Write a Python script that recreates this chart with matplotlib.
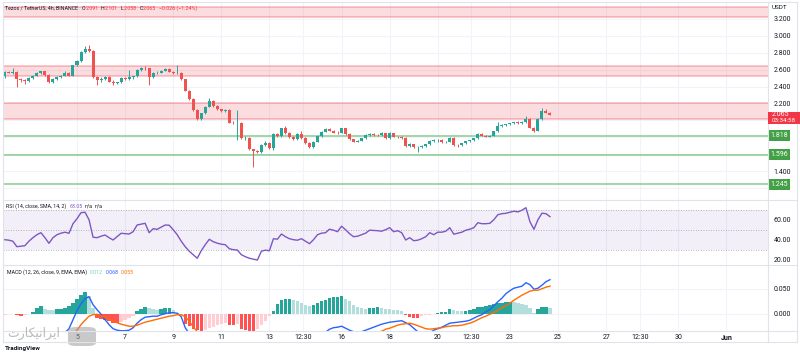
import matplotlib
matplotlib.use("Agg")
import matplotlib.pyplot as plt
import matplotlib.transforms as mtrans
from matplotlib.patches import Rectangle, FancyBboxPatch
from matplotlib.lines import Line2D
import numpy as np

# ---------------- data (XTZ/USDT 4h, May) ----------------
opens = [2.520, 2.570, 2.560, 2.570, 2.490, 2.480, 2.470, 2.500, 2.530, 2.560,
         2.580, 2.540, 2.450, 2.490, 2.510, 2.530, 2.560, 2.530, 2.650, 2.700,
         2.810, 2.840, 2.820, 2.515, 2.480, 2.490, 2.510, 2.460, 2.440, 2.450,
         2.500, 2.490, 2.510, 2.520, 2.600, 2.620, 2.615, 2.514, 2.560, 2.565,
         2.590, 2.605, 2.577, 2.557, 2.565, 2.487, 2.352, 2.250, 2.123, 2.013,
         2.084, 2.162, 2.233, 2.170, 2.131, 2.111, 2.123, 1.973, 1.970, 1.975,
         1.788, 1.795, 1.658, 1.641, 1.630, 1.709, 1.729, 1.670, 1.839, 1.815,
         1.906, 1.847, 1.800, 1.776, 1.839, 1.788, 1.729, 1.682, 1.748, 1.815,
         1.866, 1.895, 1.878, 1.855, 1.850, 1.906, 1.839, 1.776, 1.748, 1.760,
         1.788, 1.827, 1.839, 1.831, 1.824, 1.847, 1.788, 1.847, 1.807, 1.800,
         1.792, 1.697, 1.721, 1.682, 1.685, 1.700, 1.717, 1.760, 1.768, 1.770,
         1.741, 1.745, 1.796, 1.709, 1.705, 1.729, 1.756, 1.764, 1.788, 1.839,
         1.819, 1.807, 1.819, 1.875, 1.937, 1.946, 1.954, 1.966, 1.978, 1.966,
         1.985, 2.017, 1.914, 1.875, 2.017, 2.111, 2.091]
highs = [2.580, 2.590, 2.620, 2.580, 2.505, 2.495, 2.510, 2.540, 2.570, 2.590,
         2.590, 2.550, 2.500, 2.520, 2.540, 2.585, 2.570, 2.660, 2.710, 2.820,
         2.880, 2.895, 2.830, 2.530, 2.510, 2.520, 2.520, 2.480, 2.460, 2.510,
         2.510, 2.600, 2.530, 2.610, 2.630, 2.640, 2.625, 2.570, 2.580, 2.600,
         2.615, 2.615, 2.590, 2.656, 2.575, 2.495, 2.360, 2.260, 2.130, 2.090,
         2.170, 2.260, 2.245, 2.180, 2.140, 2.135, 2.130, 1.990, 2.120, 1.985,
         1.810, 1.800, 1.665, 1.650, 1.715, 1.760, 1.740, 1.845, 1.850, 1.915,
         1.930, 1.860, 1.810, 1.850, 1.870, 1.800, 1.740, 1.755, 1.825, 1.875,
         1.910, 1.905, 1.890, 1.870, 1.915, 1.915, 1.845, 1.785, 1.770, 1.795,
         1.835, 1.850, 1.845, 1.840, 1.860, 1.855, 1.860, 1.855, 1.820, 1.815,
         1.800, 1.730, 1.725, 1.695, 1.710, 1.725, 1.765, 1.775, 1.780, 1.785,
         1.755, 1.800, 1.805, 1.720, 1.735, 1.760, 1.770, 1.795, 1.845, 1.850,
         1.830, 1.825, 1.880, 1.980, 1.955, 1.960, 1.975, 1.985, 1.990, 1.995,
         2.056, 2.025, 1.925, 2.025, 2.150, 2.140, 2.101]
lows = [2.505, 2.555, 2.550, 2.400, 2.460, 2.430, 2.455, 2.490, 2.520, 2.550,
        2.530, 2.440, 2.440, 2.480, 2.500, 2.520, 2.520, 2.520, 2.640, 2.690,
        2.800, 2.810, 2.505, 2.420, 2.460, 2.480, 2.450, 2.420, 2.425, 2.440,
        2.480, 2.480, 2.490, 2.510, 2.590, 2.600, 2.420, 2.505, 2.550, 2.555,
        2.580, 2.570, 2.545, 2.550, 2.480, 2.345, 2.240, 2.115, 2.000, 2.005,
        2.075, 2.155, 2.160, 2.120, 2.100, 2.100, 1.965, 1.955, 1.770, 1.780,
        1.770, 1.650, 1.452, 1.620, 1.620, 1.700, 1.660, 1.650, 1.800, 1.805,
        1.840, 1.790, 1.765, 1.770, 1.780, 1.720, 1.675, 1.675, 1.740, 1.805,
        1.860, 1.870, 1.845, 1.840, 1.845, 1.830, 1.765, 1.740, 1.740, 1.755,
        1.780, 1.820, 1.820, 1.815, 1.815, 1.780, 1.780, 1.800, 1.795, 1.785,
        1.690, 1.690, 1.675, 1.630, 1.670, 1.690, 1.710, 1.750, 1.745, 1.735,
        1.730, 1.740, 1.700, 1.690, 1.700, 1.720, 1.745, 1.755, 1.780, 1.810,
        1.800, 1.800, 1.810, 1.865, 1.925, 1.930, 1.945, 1.955, 1.960, 1.960,
        1.975, 1.905, 1.865, 1.870, 2.010, 2.085, 2.058]
closes = [2.570, 2.560, 2.570, 2.490, 2.480, 2.470, 2.500, 2.530, 2.560, 2.580,
          2.540, 2.450, 2.490, 2.510, 2.530, 2.560, 2.530, 2.650, 2.700, 2.810,
          2.840, 2.820, 2.515, 2.480, 2.490, 2.510, 2.460, 2.440, 2.450, 2.500,
          2.490, 2.510, 2.520, 2.600, 2.620, 2.615, 2.514, 2.560, 2.565, 2.590,
          2.605, 2.577, 2.557, 2.565, 2.487, 2.352, 2.250, 2.123, 2.013, 2.084,
          2.162, 2.233, 2.170, 2.131, 2.111, 2.123, 1.973, 1.970, 1.975, 1.788,
          1.795, 1.658, 1.641, 1.630, 1.709, 1.729, 1.670, 1.839, 1.815, 1.906,
          1.847, 1.800, 1.776, 1.839, 1.788, 1.729, 1.682, 1.748, 1.815, 1.866,
          1.895, 1.878, 1.855, 1.850, 1.906, 1.839, 1.776, 1.748, 1.760, 1.788,
          1.827, 1.839, 1.831, 1.824, 1.847, 1.788, 1.847, 1.807, 1.800, 1.792,
          1.697, 1.721, 1.682, 1.685, 1.700, 1.717, 1.760, 1.768, 1.770, 1.741,
          1.745, 1.796, 1.709, 1.705, 1.729, 1.756, 1.764, 1.788, 1.839, 1.819,
          1.807, 1.819, 1.875, 1.937, 1.946, 1.954, 1.966, 1.978, 1.966, 1.985,
          2.017, 1.914, 1.875, 2.017, 2.111, 2.091, 2.065]

rsi = [40, 39.5, 38.5, 33, 33.5, 34, 38.5, 42, 45, 47,
       42, 36.4, 42, 45, 46.5, 47.5, 46.4, 56, 61, 67,
       67.5, 60, 42.5, 42, 43.5, 44.7, 42, 39.7, 43, 46.4,
       46, 45.7, 48, 54.7, 55.5, 56.4, 47, 51, 50.4, 52.5,
       54.7, 54.5, 50, 45, 38.5, 33, 28.5, 25, 21.4, 29,
       35, 40.4, 38, 36.5, 35.5, 35, 31, 30, 29.7, 25,
       23, 21.4, 20.5, 19.7, 28.5, 29.5, 29, 41, 40.5, 45.7,
       43, 41, 40, 39.5, 41, 38.5, 36, 40, 45, 46.5,
       47, 50.5, 49.5, 48, 53.5, 50, 46, 43, 43.5, 45,
       46.5, 49.5, 49.3, 49, 48.5, 50, 52, 48, 49, 47,
       39.7, 42, 39, 39.5, 41, 43, 47, 45, 47.5, 47.5,
       48.5, 52, 45.5, 46.5, 47.5, 49.5, 50.5, 52, 57, 56,
       56, 56.4, 60, 65, 66, 66.4, 67.5, 68.5, 67.8, 69.5,
       72, 58, 50.4, 60, 66.5, 66, 63.05]

macd_hist = [-0.002, -0.001, -0.001, -0.003, -0.004, -0.002, -0.001, 0.004, 0.011, 0.015,
             0.010, 0.008, 0.007, 0.009, 0.010, 0.011, 0.016, 0.022, 0.030, 0.037,
             0.044, 0.036, 0.011, -0.009, -0.011, -0.013, -0.015, -0.018, -0.019, -0.016,
             -0.012, -0.009, -0.005, 0.006, 0.010, 0.014, 0.011, 0.009, 0.007, 0.010,
             0.011, 0.012, 0.007, 0.002, -0.001, -0.020, -0.025, -0.030, -0.032, -0.034,
             -0.032, -0.029, -0.026, -0.023, -0.020, -0.018, -0.022, -0.023, -0.021, -0.030,
             -0.033, -0.035, -0.036, -0.030, -0.022, -0.015, -0.005, 0.006, 0.020, 0.027,
             0.029, 0.030, 0.027, 0.025, 0.021, 0.017, 0.016, 0.018, 0.021, 0.025,
             0.027, 0.031, 0.033, 0.034, 0.035, 0.030, 0.025, 0.018, 0.013, 0.011,
             0.010, 0.011, 0.012, 0.013, 0.011, 0.010, 0.009, 0.008, 0.007, 0.006,
             -0.003, -0.006, -0.008, -0.009, -0.004, -0.003, -0.002, -0.001, 0.002, 0.003,
             0.004, 0.009, 0.008, 0.006, 0.005, 0.006, 0.007, 0.009, 0.013, 0.014,
             0.015, 0.017, 0.019, 0.021, 0.022, 0.023, 0.024, 0.023, 0.022, 0.020,
             0.018, 0.011, 0.002, 0.009, 0.013, 0.014, 0.012]

macd_line = [-0.052, -0.053, -0.054, -0.057, -0.058, -0.058, -0.057, -0.054, -0.050, -0.046,
             -0.046, -0.048, -0.047, -0.045, -0.042, -0.038, -0.030, -0.012, 0.006, 0.020,
             0.030, 0.034, 0.018, 0.008, -0.001, -0.012, -0.022, -0.030, -0.033, -0.034,
             -0.034, -0.033, -0.028, -0.019, -0.012, -0.007, -0.006, -0.005, -0.005, -0.002,
             0.000, 0.002, 0.002, 0.001, -0.006, -0.028, -0.040, -0.055, -0.068, -0.075,
             -0.078, -0.079, -0.080, -0.081, -0.082, -0.083, -0.090, -0.094, -0.096, -0.105,
             -0.115, -0.125, -0.132, -0.133, -0.128, -0.122, -0.118, -0.105, -0.095, -0.082,
             -0.073, -0.068, -0.064, -0.058, -0.056, -0.056, -0.058, -0.054, -0.048, -0.042,
             -0.037, -0.031, -0.028, -0.027, -0.025, -0.029, -0.033, -0.036, -0.037, -0.036,
             -0.033, -0.030, -0.027, -0.024, -0.021, -0.019, -0.017, -0.016, -0.015, -0.014,
             -0.018, -0.022, -0.029, -0.036, -0.039, -0.040, -0.038, -0.033, -0.030, -0.027,
             -0.023, -0.019, -0.018, -0.017, -0.016, -0.015, -0.013, -0.009, -0.005, -0.002,
             0.004, 0.008, 0.016, 0.024, 0.031, 0.040, 0.046, 0.051, 0.053, 0.055,
             0.062, 0.058, 0.049, 0.051, 0.057, 0.064, 0.068]

signal_line = [-0.050, -0.052, -0.053, -0.054, -0.054, -0.056, -0.056, -0.058, -0.061, -0.061,
               -0.056, -0.056, -0.054, -0.054, -0.052, -0.049, -0.046, -0.040, -0.033, -0.022,
               -0.013, -0.005, -0.002, -0.001, -0.004, -0.007, -0.011, -0.015, -0.018, -0.021,
               -0.023, -0.025, -0.025, -0.023, -0.020, -0.017, -0.015, -0.013, -0.011, -0.009,
               -0.007, -0.005, -0.004, -0.002, -0.002, -0.006, -0.015, -0.026, -0.036, -0.043,
               -0.048, -0.052, -0.056, -0.059, -0.062, -0.065, -0.068, -0.071, -0.075, -0.077,
               -0.082, -0.090, -0.096, -0.103, -0.106, -0.107, -0.110, -0.111, -0.112, -0.111,
               -0.103, -0.096, -0.091, -0.083, -0.077, -0.073, -0.074, -0.072, -0.069, -0.067,
               -0.064, -0.064, -0.062, -0.061, -0.060, -0.056, -0.057, -0.054, -0.051, -0.048,
               -0.045, -0.042, -0.040, -0.038, -0.035, -0.031, -0.029, -0.026, -0.023, -0.021,
               -0.020, -0.019, -0.021, -0.024, -0.027, -0.030, -0.031, -0.030, -0.029, -0.028,
               -0.026, -0.025, -0.024, -0.024, -0.023, -0.021, -0.019, -0.016, -0.012, -0.008,
               -0.005, -0.001, 0.002, 0.007, 0.012, 0.016, 0.021, 0.027, 0.032, 0.037,
               0.041, 0.045, 0.047, 0.047, 0.050, 0.053, 0.055]

resistance_zones = [(3.220, 3.340), (2.525, 2.644), (2.013, 2.202)]
support_levels = [1.818, 1.596, 1.245]
support_labels = ["1.818", "1.596", "1.245"]

price_ticks = [1.4, 2.2, 2.4, 2.6, 2.8, 3.0, 3.2]
rsi_ticks = [20, 40, 60]
macd_ticks = [0.0, 0.05]
time_ticks = [5, 7, 9, 11, 13, 14.4, 16, 18, 20, 21.4, 23, 25, 27, 28.4, 30, 32]
time_labels = ["5", "7", "9", "11", "13", "12:30", "16", "18", "20", "12:30",
               "23", "25", "27", "12:30", "30", "Jun"]

last_price_label = "2.065"
countdown_label = "03:34:58"

# ---------------- figure ----------------
W, H = 800, 355
plt.rcParams['font.family'] = ['Roboto', 'DejaVu Sans']
fig = plt.figure(figsize=(8, 3.55), dpi=100)
fig.patch.set_facecolor("white")

UP, DOWN = "#26a69a", "#ef5350"
TXT = "#131722"
GRID = "#f0f3fa"
SEP = "#e0e3eb"

def ax_px(x0, y0, x1, y1):
    return fig.add_axes([x0 / W, 1 - y1 / H, (x1 - x0) / W, (y1 - y0) / H])

X0, X1 = 3, 768
ax_p = ax_px(X0, 3, X1, 200)
ax_r = ax_px(X0, 200, X1, 265)
ax_m = ax_px(X0, 265, X1, 331)

xlim = (5 + (X0 - 77) / 24.05, 5 + (X1 - 77) / 24.05)
n = len(closes)
xs = 2.0 + np.arange(n) / 6.0
bw = 0.125

for ax in (ax_p, ax_r, ax_m):
    ax.set_xlim(*xlim)
    for s in ax.spines.values():
        s.set_visible(False)
    ax.set_facecolor("none")
    for t in time_ticks:
        ax.axvline(t, color=GRID, lw=0.8, zorder=0)
    ax.yaxis.tick_right()
    ax.tick_params(axis="y", length=0, pad=4, labelsize=5, labelcolor=TXT)
    ax.tick_params(axis="x", length=0)

# ---- price pane ----
ax_p.set_ylim(1.058, 3.389)
for g in np.arange(1.2, 3.3, 0.2):
    ax_p.axhline(g, color=GRID, lw=0.8, zorder=0)
for lo, hi in resistance_zones:
    ax_p.axhspan(lo, hi, facecolor="#f23645", alpha=0.17, lw=0, zorder=1)
    ax_p.axhline(lo, color="#f23645", alpha=0.35, lw=1.1, zorder=1)
    ax_p.axhline(hi, color="#f23645", alpha=0.35, lw=1.1, zorder=1)
for lv in support_levels:
    ax_p.axhline(lv, color="#4caf50", alpha=0.55, lw=1.3, zorder=1)

for i in range(n):
    o, h, l, c = opens[i], highs[i], lows[i], closes[i]
    col = UP if c >= o else DOWN
    ax_p.vlines(xs[i], l, h, color=col, lw=0.7, zorder=3)
    body = max(abs(c - o), 0.004)
    ax_p.bar(xs[i], body, bottom=min(o, c), width=bw, color=col, lw=0, zorder=4)

ax_p.set_yticks(price_ticks)
ax_p.set_yticklabels(["%.3f" % v for v in price_ticks])
ax_p.set_xticks([])

ytr = mtrans.blended_transform_factory(ax_p.transAxes, ax_p.transData)
for lv, lab in zip(support_levels, support_labels):
    ax_p.text(1.0 + 2.5 / 765, lv, lab, transform=ytr, ha="left", va="center",
              fontsize=5, color="white", clip_on=False, zorder=10,
              bbox=dict(boxstyle="square,pad=0.3", fc="#43a047", ec="none"))

# last price box
fig.patches.append(Rectangle((768 / W, 1 - 123.5 / H), 32 / W, 12 / H,
                             transform=fig.transFigure, fc="#f23645", ec="none", zorder=5))
fig.text(772 / W, 1 - 115 / H, last_price_label, fontsize=5, color="white", va="center", zorder=6)
fig.text(772 / W, 1 - 120.6 / H, countdown_label, fontsize=4.5, color="white", va="center", zorder=6)
fig.text(772 / W, 1 - 7.5 / H, "USDT", fontsize=4.6, color=TXT, va="center")

# ---- RSI pane ----
ax_r.set_ylim(14.7, 79.7)
ax_r.axhspan(30, 70, color="#7e57c2", alpha=0.09, lw=0, zorder=0)
for lv in (30, 50, 70):
    ax_r.axhline(lv, color="#787b86", lw=0.6, ls=(0, (1, 2)), alpha=0.7, zorder=1)
ax_r.plot(xs, rsi, color="#7e57c2", lw=1.0, zorder=3)
ax_r.set_yticks(rsi_ticks)
ax_r.set_yticklabels(["%.2f" % v for v in rsi_ticks])
ax_r.set_xticks([])

# ---- MACD pane ----
ax_m.set_ylim(-0.0346, 0.0974)
for g in macd_ticks:
    ax_m.axhline(g, color=GRID, lw=0.8, zorder=0)
cols = []
prev = None
for hv in macd_hist:
    p = hv if prev is None else prev
    if hv >= 0:
        cols.append("#26a69a" if hv > p else "#b2dfdb")
    else:
        cols.append("#ff5252" if hv < p else "#ffcdd2")
    prev = hv
ax_m.bar(xs, macd_hist, width=0.14, color=cols, lw=0, zorder=2)
ax_m.plot(xs, macd_line, color="#2962ff", lw=1.0, zorder=3)
ax_m.plot(xs, signal_line, color="#ff6d00", lw=1.0, zorder=3)
ax_m.set_yticks(macd_ticks)
ax_m.set_yticklabels(["%.3f" % v for v in macd_ticks])
ax_m.set_xticks(time_ticks)
ax_m.set_xticklabels(time_labels)
ax_m.tick_params(axis="x", labelsize=5, labelcolor=TXT, pad=2.5)
for lab in ax_m.get_xticklabels():
    if lab.get_text() == "Jun":
        lab.set_fontweight("bold")

# ---- frame / separators ----
def hline(y, x0, x1, c=SEP, lw=0.8):
    fig.lines.append(Line2D([x0 / W, x1 / W], [1 - y / H, 1 - y / H],
                            transform=fig.transFigure, color=c, lw=lw))
def vline(x, y0, y1, c=SEP, lw=0.8):
    fig.lines.append(Line2D([x / W, x / W], [1 - y0 / H, 1 - y1 / H],
                            transform=fig.transFigure, color=c, lw=lw))
hline(200, 3, 797)
hline(265, 3, 797)
hline(331, 3, 797)
hline(342, 3, 797)
hline(2, 3, 797)
vline(768, 2, 342)
vline(3, 2, 342)
vline(797, 2, 342)

# ---- legends / titles ----
renderer = fig.canvas.get_renderer()
def chain(x, y, parts, size=3.8):
    for s, c, gap in parts:
        t = fig.text(x / W, 1 - y / H, s, color=c, fontsize=size, ha="left", va="center")
        bb = t.get_window_extent(renderer=renderer)
        x += bb.width + gap

RED = "#f23645"
chain(5, 8.3, [("Tezos / TetherUS, 4h, BINANCE", TXT, 3.5),
               ("O", TXT, 0.4), ("2.091", RED, 2.5),
               ("H", TXT, 0.4), ("2.101", RED, 2.5),
               ("L", TXT, 0.4), ("2.058", RED, 2.5),
               ("C", TXT, 0.4), ("2.065", RED, 2.5),
               ("\u22120.026 (\u22121.24%)", RED, 0)])

chain(6, 206, [("RSI (14, close, SMA, 14, 2)", TXT, 3), ("63.05", "#7e57c2", 2.5),
               ("n/a", TXT, 1.5), ("n/a", TXT, 0)])
chain(7, 272.5, [("MACD (12, 26, close, 9, EMA, EMA)", TXT, 3), ("0.012", "#80cbc4", 2.5),
                 ("0.068", "#2962ff", 2.5), ("0.055", "#ff6d00", 0)])

# watermark / branding
fig.text(7 / W, 1 - 333 / H,
         "\ufe95\ufead\ufe8e\ufb91\ufbff\ufee7\ufe8d\ufeae\ufbfe\ufe8d",
         family="DejaVu Sans", fontsize=9, color="#9e9e9e", alpha=0.7, va="center")
fig.patches.append(FancyBboxPatch((68 / W, 1 - 346 / H), 28 / W, 19 / H,
                                  boxstyle="round,pad=0,rounding_size=0.01",
                                  transform=fig.transFigure, fc="#9e9e9e", ec="none", alpha=0.55))
fig.text(5 / W, 1 - 348.5 / H, "TradingView", fontsize=4.5, color=TXT,
         fontweight="bold", va="center")

fig.savefig("out.png", dpi=100, facecolor="white")
